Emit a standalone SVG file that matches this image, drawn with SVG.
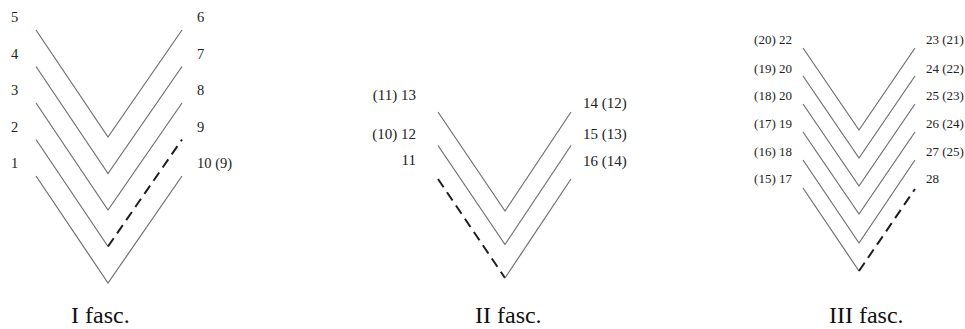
<svg xmlns="http://www.w3.org/2000/svg" width="965" height="329" viewBox="0 0 965 329">
<style>
.v{fill:none;stroke:#707070;stroke-width:1.2}
.d{fill:none;stroke:#1e1e1e;stroke-width:2;stroke-dasharray:10 6}
.n1{font-family:"Liberation Serif",serif;font-size:14.5px;fill:#222}
.n2{font-family:"Liberation Serif",serif;font-size:15px;fill:#222}
.n3{font-family:"Liberation Serif",serif;font-size:13px;fill:#222}
.e{text-anchor:end}
.cap{font-family:"Liberation Serif",serif;font-size:24px;fill:#111}
</style>
<rect width="965" height="329" fill="#fff"/>
<g id="fasc1">
  <g id="f1-lines">
    <polyline class="v" points="36,30 108,137 182,30"/>
    <polyline class="v" points="36,66.5 108,173.5 182,66.5"/>
    <polyline class="v" points="36,103 108,210 182,103"/>
    <polyline class="v" points="36,139.5 108,246.5"/>
    <line class="d" x1="108" y1="246.5" x2="182" y2="139.5"/>
    <polyline class="v" points="36,176 108,283 182,176"/>
  </g>
  <g id="f1-labels" class="n1">
    <text x="11" y="22">5</text>
    <text x="11" y="58.5">4</text>
    <text x="11" y="95">3</text>
    <text x="11" y="131.5">2</text>
    <text x="11" y="168">1</text>
    <text x="197" y="22">6</text>
    <text x="197" y="58.5">7</text>
    <text x="197" y="95">8</text>
    <text x="197" y="131.5">9</text>
    <text x="197" y="168">10 (9)</text>
  </g>
  <text class="cap" x="71" y="323">I fasc.</text>
</g>
<g id="fasc2">
  <g id="f2-lines">
    <polyline class="v" points="438,112 505,211 571,112"/>
    <polyline class="v" points="438,145.5 505,244.5 571,145.5"/>
    <line class="d" x1="438" y1="179" x2="505" y2="278"/>
    <line class="v" x1="505" y1="278" x2="571" y2="179"/>
  </g>
  <g id="f2-labels" class="n2">
    <text class="e" x="416" y="100">(11) 13</text>
    <text class="e" x="416" y="139">(10) 12</text>
    <text class="e" x="416" y="165">11</text>
    <text x="583" y="108">14 (12)</text>
    <text x="583" y="139">15 (13)</text>
    <text x="583" y="166">16 (14)</text>
  </g>
  <text class="cap" x="475" y="323">II fasc.</text>
</g>
<g id="fasc3">
  <g id="f3-lines">
    <polyline class="v" points="803,48 859,130 915,48"/>
    <polyline class="v" points="803,76 859,158 915,76"/>
    <polyline class="v" points="803,104 859,186 915,104"/>
    <polyline class="v" points="803,132 859,214 915,132"/>
    <polyline class="v" points="803,160 859,243 915,160"/>
    <polyline class="v" points="803,188 859,271"/>
    <line class="d" x1="859" y1="271" x2="915" y2="189"/>
  </g>
  <g id="f3-labels" class="n3">
    <text class="e" x="792" y="43.5">(20) 22</text>
    <text class="e" x="792" y="72.5">(19) 20</text>
    <text class="e" x="792" y="99.5">(18) 20</text>
    <text class="e" x="792" y="127.5">(17) 19</text>
    <text class="e" x="792" y="155.5">(16) 18</text>
    <text class="e" x="792" y="182.5">(15) 17</text>
    <text x="926" y="43.5">23 (21)</text>
    <text x="926" y="72.5">24 (22)</text>
    <text x="926" y="99.5">25 (23)</text>
    <text x="926" y="127.5">26 (24)</text>
    <text x="926" y="155.5">27 (25)</text>
    <text x="926" y="182.5">28</text>
  </g>
  <text class="cap" x="829" y="323">III fasc.</text>
</g>
</svg>
